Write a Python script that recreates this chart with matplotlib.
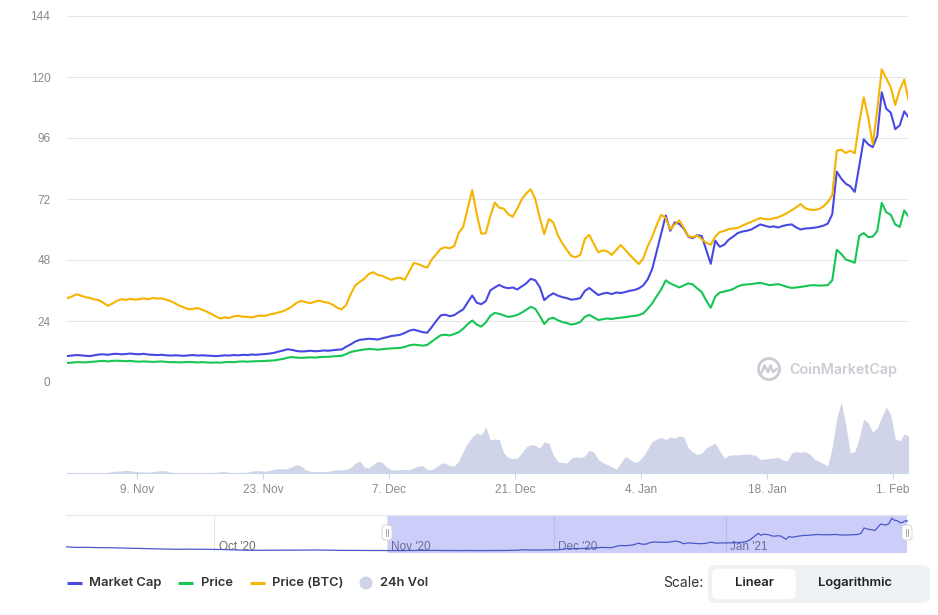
import matplotlib
matplotlib.use('Agg')
import matplotlib.pyplot as plt
from matplotlib.patches import FancyBboxPatch, Circle
import pandas as pd

# ---------------- data ----------------
series_start = '2020-11-01 06:00'
series_step = '12h'

market_cap = [
    10.2, 10.4, 10.6, 10.5, 10.3, 10.2, 10.5, 10.8, 10.9, 10.7,
    11.0, 11.1, 10.9, 11.0, 11.2, 11.0, 10.9, 11.1, 10.8, 10.7,
    10.6, 10.7, 10.5, 10.4, 10.5, 10.4, 10.3, 10.5, 10.6, 10.4,
    10.5, 10.4, 10.3, 10.2, 10.3, 10.5, 10.4, 10.6, 10.5, 10.7,
    10.6, 10.8, 10.7, 10.9, 11.0, 11.2, 11.5, 12.0, 12.4, 12.9,
    12.6, 12.2, 12.0, 12.1, 12.3, 12.1, 12.2, 12.4, 12.3, 12.5,
    12.7, 12.8, 13.9, 14.8, 15.9, 16.6, 16.8, 17.0, 16.9, 16.7,
    17.2, 17.6, 18.1, 18.3, 18.6, 19.3, 20.2, 20.6, 20.1, 19.6,
    19.4, 21.6, 24.0, 26.2, 26.5, 25.9, 26.3, 27.5, 28.6, 31.4,
    34.0, 31.2, 30.6, 31.8, 36.0, 37.2, 38.2, 37.3, 36.9, 37.2,
    36.4, 37.6, 38.8, 40.6, 40.0, 37.4, 32.2, 33.8, 34.9, 34.0,
    33.4, 33.0, 32.4, 32.6, 33.0, 35.8, 37.0, 35.6, 34.2, 34.8,
    35.1, 34.6, 35.2, 35.0, 35.4, 35.9, 36.2, 36.8, 38.0, 40.4,
    44.5, 51.5, 58.6, 65.5, 59.5, 62.8, 62.2, 60.4, 57.2, 56.6,
    57.8, 57.4, 52.0, 46.5, 55.6, 53.2, 54.0, 56.0, 57.2, 58.6,
    59.2, 59.5, 60.0, 61.0, 62.0, 61.5, 61.0, 61.2, 60.8, 61.4,
    61.8, 62.0, 60.8, 60.0, 60.4, 60.5, 60.7, 61.0, 61.5, 62.3,
    66.0, 82.8, 80.0, 78.0, 77.0, 74.8, 85.0, 95.5, 93.5, 92.4,
    96.8, 114.0, 107.5, 106.0, 99.5, 101.0, 106.5, 104.0,
]

price = [
    7.5, 7.6, 7.8, 7.8, 7.7, 7.9, 8.0, 8.2, 8.3, 8.1,
    8.3, 8.4, 8.3, 8.2, 8.3, 8.1, 8.0, 8.1, 8.0, 7.9,
    8.0, 8.1, 7.9, 7.8, 7.8, 7.7, 7.8, 7.9, 7.8, 7.7,
    7.8, 7.7, 7.6, 7.7, 7.6, 7.8, 7.9, 7.8, 8.0, 8.1,
    8.0, 8.1, 8.2, 8.2, 8.3, 8.4, 8.5, 8.8, 9.1, 9.6,
    9.8, 9.6, 9.5, 9.6, 9.7, 9.6, 9.8, 9.9, 9.9, 10.1,
    10.2, 10.3, 11.0, 11.8, 12.2, 12.5, 12.8, 13.0, 12.9, 12.7,
    12.9, 13.1, 13.2, 13.3, 13.4, 13.8, 14.4, 14.7, 14.5, 14.3,
    14.6, 15.9, 17.2, 18.4, 18.6, 18.3, 18.9, 19.6, 21.0, 22.8,
    24.2, 22.6, 21.8, 23.4, 26.0, 27.2, 26.8, 26.2, 25.6, 25.9,
    26.4, 27.3, 28.4, 29.6, 28.8, 26.0, 22.8, 24.8, 25.3, 24.3,
    23.6, 23.2, 22.6, 22.9, 23.6, 25.6, 26.4, 25.4, 24.4, 24.7,
    25.0, 24.8, 25.1, 25.3, 25.5, 25.8, 26.0, 26.3, 27.0, 28.8,
    31.0, 33.8, 36.5, 40.0, 38.8, 38.0, 37.2, 38.0, 38.8, 38.4,
    36.8, 35.4, 32.0, 29.2, 33.6, 35.2, 35.6, 36.0, 36.6, 37.6,
    38.2, 38.4, 38.5, 38.8, 39.0, 38.6, 38.1, 38.3, 38.5, 38.0,
    37.4, 37.0, 37.2, 37.4, 37.7, 38.0, 38.1, 37.9, 38.0, 38.1,
    40.0, 52.0, 50.4, 48.2, 47.6, 46.9, 57.5, 58.6, 57.0, 57.2,
    59.4, 70.5, 66.8, 65.8, 62.0, 61.0, 67.5, 65.0,
]

price_btc = [
    33.0, 33.6, 34.5, 34.0, 33.4, 33.1, 32.5, 32.2, 31.2, 30.0,
    30.8, 31.9, 32.6, 32.3, 32.7, 32.4, 32.6, 32.9, 32.5, 33.1,
    32.8, 32.9, 32.4, 31.8, 30.9, 30.0, 29.3, 28.6, 28.8, 29.1,
    28.4, 27.7, 26.8, 25.8, 25.0, 25.4, 25.2, 25.8, 26.1, 25.7,
    25.6, 25.4, 25.9, 26.1, 26.0, 26.6, 26.9, 27.4, 27.9, 28.7,
    29.8, 31.2, 31.9, 31.4, 31.0, 31.6, 32.0, 31.5, 31.2, 30.4,
    29.2, 28.6, 30.4, 34.6, 38.0, 39.4, 40.6, 42.5, 43.2, 42.1,
    41.8, 40.9, 40.2, 40.8, 41.0, 40.2, 43.5, 46.8, 46.4, 45.6,
    45.0, 48.2, 50.3, 52.4, 53.0, 52.6, 53.5, 58.7, 61.0, 68.5,
    75.5, 66.0, 58.4, 58.5, 65.2, 70.6, 68.6, 68.2, 66.0, 65.0,
    68.2, 71.9, 74.2, 75.8, 72.0, 64.6, 58.2, 64.1, 62.8, 57.8,
    54.6, 52.0, 49.6, 49.1, 50.0, 56.2, 57.9, 54.4, 51.0, 51.8,
    51.4, 50.0, 51.9, 53.9, 52.0, 50.0, 48.2, 46.4, 48.6, 53.5,
    57.2, 61.8, 65.8, 64.5, 60.1, 62.0, 63.6, 60.8, 57.4, 57.0,
    57.6, 56.2, 54.8, 54.0, 57.2, 59.0, 59.4, 60.2, 60.4, 60.6,
    61.5, 62.3, 63.0, 63.8, 64.5, 64.1, 64.0, 64.4, 64.8, 65.6,
    66.5, 67.6, 68.8, 70.0, 68.4, 67.8, 67.7, 68.0, 69.0, 70.8,
    73.5, 91.0, 91.4, 90.1, 91.0, 90.0, 102.0, 112.0, 104.0, 93.5,
    107.0, 123.0, 119.5, 116.0, 109.0, 115.0, 119.0, 110.5,
]

volume_24h = [
    0.4, 0.4, 0.5, 0.4, 0.5, 0.4, 0.5, 0.5, 0.6, 0.5,
    1.5, 1.8, 2.0, 2.8, 2.2, 1.6, 1.2, 1.0, 0.9, 1.2,
    2.0, 2.4, 2.1, 0.7, 0.5, 0.5, 0.4, 0.5, 0.5, 0.4,
    0.5, 0.5, 0.6, 0.5, 1.2, 1.5, 0.6, 0.5, 0.5, 0.6,
    0.7, 2.0, 2.4, 2.2, 1.8, 2.6, 3.8, 4.4, 4.0, 4.6,
    6.5, 8.3, 7.0, 3.0, 1.7, 1.4, 1.5, 1.4, 1.6, 2.6,
    3.3, 3.1, 3.6, 5.5, 10.0, 12.0, 6.0, 5.0, 8.5, 11.7,
    10.5, 6.0, 3.3, 3.0, 3.3, 3.6, 3.2, 5.0, 7.0, 7.3,
    3.5, 3.3, 6.0, 9.5, 10.0, 7.2, 7.0, 12.0, 22.0, 30.0,
    36.0, 40.0, 38.0, 46.0, 33.0, 34.0, 33.5, 20.0, 15.5, 14.5,
    15.0, 20.0, 26.0, 28.3, 27.5, 25.0, 31.0, 30.0, 18.0, 11.5,
    10.5, 10.0, 15.0, 16.0, 15.5, 17.0, 22.5, 21.0, 13.3, 10.5,
    8.5, 6.0, 4.0, 10.0, 16.5, 14.0, 10.5, 12.0, 17.0, 24.0,
    31.5, 34.0, 35.5, 33.5, 36.0, 35.0, 37.0, 36.0, 25.0, 21.0,
    18.5, 20.0, 25.0, 27.5, 30.0, 22.0, 15.0, 17.5, 18.3, 18.0,
    18.8, 19.0, 18.5, 17.5, 13.5, 14.0, 14.5, 15.0, 15.5, 13.0,
    12.0, 20.0, 21.7, 20.5, 21.5, 19.0, 14.0, 11.7, 9.5, 7.3,
    26.0, 55.0, 71.0, 48.0, 20.0, 21.5, 35.0, 54.0, 50.0, 41.0,
    45.0, 56.0, 66.0, 58.0, 34.0, 32.0, 39.0, 36.7,
]

nav_early_start = '2020-09-04'
nav_early_step = '2D'
nav_market_cap_early = [
    23.0, 20.5, 20.8, 19.8, 19.5, 18.6, 17.8, 17.0, 15.8, 15.3,
    14.6, 14.9, 14.7, 14.5, 14.0, 12.8, 11.8, 11.2, 11.4, 11.6,
    11.9, 12.0, 12.3, 12.2, 11.6, 11.0, 10.8, 10.5, 10.2,
]

x_ticks = ['2020-11-09', '2020-11-23', '2020-12-07', '2020-12-21',
           '2021-01-04', '2021-01-18', '2021-02-01']
x_tick_labels = ['9. Nov', '23. Nov', '7. Dec', '21. Dec', '4. Jan', '18. Jan', '1. Feb']
y_ticks = [0, 24, 48, 72, 96, 120, 144]
nav_months = ['2020-10-01', '2020-11-01', '2020-12-01', '2021-01-01']
nav_month_labels = ["Oct '20", "Nov '20", "Dec '20", "Jan '21"]
legend_labels = ['Market Cap', 'Price', 'Price (BTC)', '24h Vol']

# ---------------- style ----------------
C_MCAP = '#4848e4'
C_PRICE = '#17c553'
C_BTC = '#f6b400'
C_VOL = '#d0d4e8'
C_GRID = '#e6e6e6'
C_LABEL = '#8a8a8a'
AX_FONT = 'Liberation Sans'
LEG_FONT = 'Inter'

W, H = 938, 615
fig = plt.figure(figsize=(W / 100, H / 100), dpi=100)
fig.patch.set_facecolor('white')


def rect(l, t, r, b):
    return [l / W, 1 - b / H, (r - l) / W, (b - t) / H]


dates = pd.date_range(series_start, periods=len(market_cap), freq=series_step)
x_lo = pd.Timestamp('2020-11-01 05:20')
x_hi = pd.Timestamp('2021-02-02 16:00')

# main price chart
ax = fig.add_axes(rect(67, 16, 908, 382))
ax.plot(dates, market_cap, color=C_MCAP, lw=1.5, zorder=3)
ax.plot(dates, price, color=C_PRICE, lw=1.5, zorder=3)
ax.plot(dates, price_btc, color=C_BTC, lw=1.5, zorder=3)
ax.set_xlim(x_lo, x_hi)
ax.set_ylim(0, 144)
ax.set_yticks(y_ticks)
ax.set_yticklabels([str(v) for v in y_ticks], fontfamily=AX_FONT)
ax.tick_params(axis='y', length=0, pad=12, labelsize=8.5, labelcolor=C_LABEL)
ax.set_xticks([])
ax.yaxis.grid(True, color=C_GRID, lw=0.8)
ax.set_axisbelow(True)
for s in ax.spines.values():
    s.set_visible(False)
ax.patch.set_alpha(0)

# volume
axv = fig.add_axes(rect(67, 398, 908, 473))
axv.fill_between(dates, volume_24h, 0, color=C_VOL, lw=0)
axv.set_xlim(x_lo, x_hi)
axv.set_ylim(0, 75)
axv.set_yticks([])
xt = [pd.Timestamp(t) for t in x_ticks]
axv.set_xticks(xt)
axv.set_xticklabels(x_tick_labels, fontfamily=AX_FONT)
axv.tick_params(axis='x', length=4, width=0.8, color='#ccd6eb', pad=4,
                labelsize=8.5, labelcolor=C_LABEL)
for k, s in axv.spines.items():
    s.set_visible(k == 'bottom')
axv.spines['bottom'].set_color('#ccd6eb')
axv.spines['bottom'].set_linewidth(0.8)
axv.patch.set_alpha(0)

# navigator
axn = fig.add_axes(rect(66, 515, 908, 553))
nav_dates_early = pd.date_range(nav_early_start, periods=len(nav_market_cap_early), freq=nav_early_step)
nav_x = list(nav_dates_early) + list(dates)
nav_y = nav_market_cap_early + market_cap
axn.plot(nav_x, nav_y, color='#4b58c8', lw=0.9, zorder=4)
axn.set_xlim(pd.Timestamp('2020-09-04 08:00'), x_hi)
axn.set_ylim(2.6, 124.4)
for m, lab in zip(nav_months, nav_month_labels):
    mt = pd.Timestamp(m)
    axn.axvline(mt, color=C_GRID, lw=0.8, zorder=1)
    axn.annotate(lab, xy=(mt, 0.17), xycoords=('data', 'axes fraction'),
                 xytext=(3, 0), textcoords='offset points', ha='left', va='center',
                 fontsize=8.5, color='#6e6e6e', family=AX_FONT, zorder=2)
axn.axvspan(x_lo, pd.Timestamp('2021-02-02 12:00'), color=(0.40, 0.40, 0.94), alpha=0.32,
            lw=0, zorder=3)
axn.set_xticks([])
axn.set_yticks([])
for s in axn.spines.values():
    s.set_visible(False)
axn.patch.set_alpha(0)

# decoration layer in pixel coordinates
deco = fig.add_axes([0, 0, 1, 1], zorder=10)
deco.set_xlim(0, W)
deco.set_ylim(H, 0)
deco.axis('off')
deco.patch.set_alpha(0)

# navigator top border
deco.plot([66, 908], [514.5, 514.5], color=C_GRID, lw=0.8)
# navigator handles
for hx in (387, 907):
    deco.add_patch(FancyBboxPatch((hx - 5, 525), 10, 15,
                                  boxstyle='round,pad=0,rounding_size=3',
                                  fc='white', ec='#d0d0d0', lw=0.6))
    deco.plot([hx - 1.2, hx - 1.2], [529, 536], color='#999999', lw=0.6)
    deco.plot([hx + 1.2, hx + 1.2], [529, 536], color='#999999', lw=0.6)

# watermark
deco.add_patch(Circle((769, 369), 10.5, fill=False, ec='#c9ccd3', lw=2.0))
deco.plot([761.5, 764.5, 768, 770.5, 773, 776.5], [373, 365.5, 372, 365.5, 372, 369],
          color='#c9ccd3', lw=1.8, solid_joinstyle='round', solid_capstyle='round')
deco.text(789, 369.5, 'CoinMarketCap', ha='left', va='center', fontsize=10.3,
          color='#c9ccd3', family=LEG_FONT, fontweight='semibold')

# legend
ly = 583
leg_items = [(67, 89, C_MCAP), (178, 201, C_PRICE), (250, 272, C_BTC)]
for (mx, tx, c), lab in zip(leg_items, legend_labels[:3]):
    deco.plot([mx, mx + 15], [ly, ly], color=c, lw=2.2, solid_capstyle='butt')
    deco.text(tx, ly, lab, ha='left', va='center', fontsize=9.3, color='#333333',
              family=LEG_FONT, fontweight='semibold')
deco.add_patch(Circle((366, ly), 6.5, color=C_VOL, lw=0))
deco.text(380, ly, legend_labels[3], ha='left', va='center', fontsize=9.3, color='#333333',
          family=LEG_FONT, fontweight='semibold')

# scale toggle
deco.text(703, ly, 'Scale:', ha='right', va='center', fontsize=10, color='#333333',
          family=LEG_FONT)
deco.add_patch(FancyBboxPatch((708, 565), 222, 38, boxstyle='round,pad=0,rounding_size=8',
                              fc='#eff2f5', ec='none'))
deco.add_patch(FancyBboxPatch((712, 569), 84, 30, boxstyle='round,pad=0,rounding_size=6',
                              fc='white', ec='none'))
deco.text(754, ly, 'Linear', ha='center', va='center', fontsize=9.3, color='#222222',
          family=LEG_FONT, fontweight='semibold')
deco.text(855, ly, 'Logarithmic', ha='center', va='center', fontsize=9.3, color='#222222',
          family=LEG_FONT, fontweight='semibold')

fig.savefig('out.png', dpi=100, facecolor='white')
